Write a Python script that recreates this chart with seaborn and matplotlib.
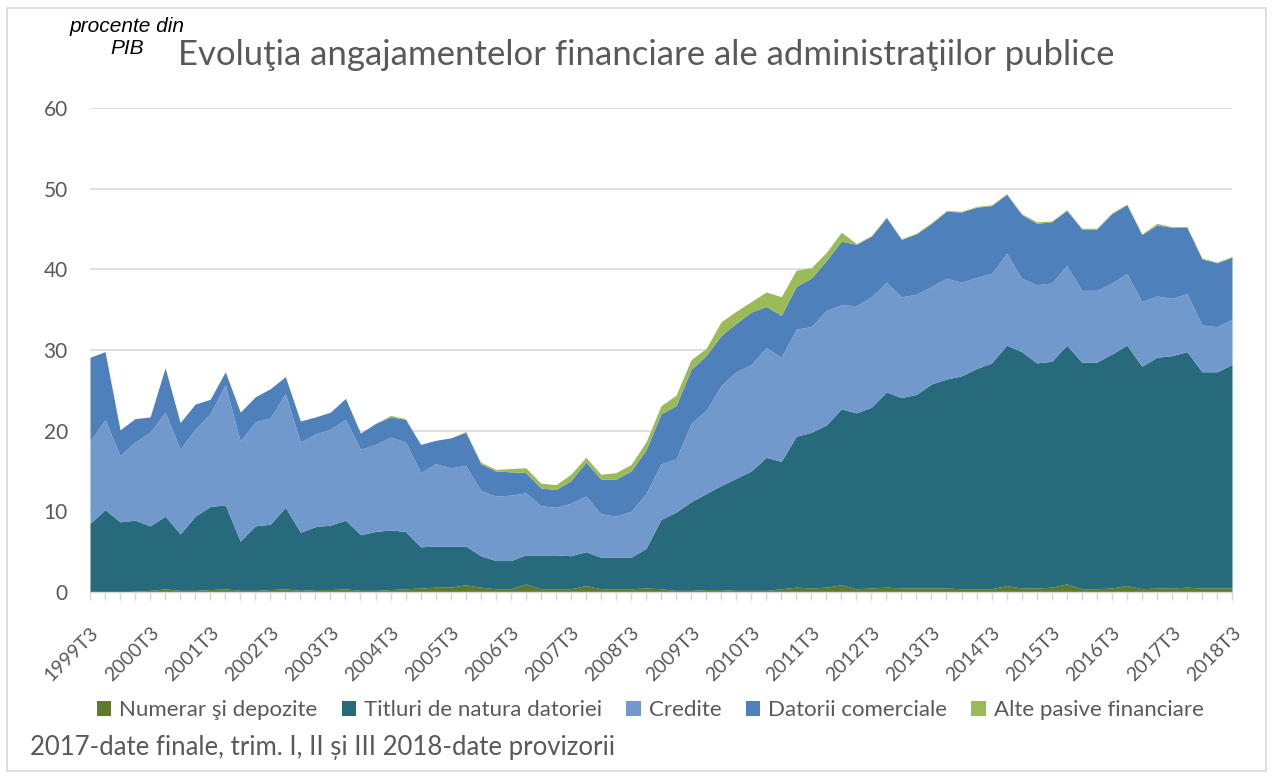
import numpy as np
import matplotlib
matplotlib.use("Agg")
import matplotlib.pyplot as plt
import seaborn as sns
from matplotlib.patches import Rectangle

# ---------------- data ----------------
quarters = []
y0, q0 = 1999, 3
for k in range(77):
    q = (q0 - 1 + k) % 4 + 1
    y = y0 + (q0 - 1 + k) // 4
    quarters.append(f"{y}T{q}")

numerar = [0.0, 0.0, 0.0, 0.1, 0.2, 0.4, 0.2, 0.2, 0.3, 0.4, 0.2, 0.2, 0.3, 0.4, 0.2, 0.3,
           0.3, 0.4, 0.2, 0.2, 0.3, 0.4, 0.5, 0.6, 0.6, 0.9, 0.6, 0.4, 0.4, 1.0, 0.4, 0.4,
           0.4, 0.8, 0.4, 0.4, 0.4, 0.5, 0.4, 0.2, 0.2, 0.3, 0.3, 0.2, 0.2, 0.2, 0.4, 0.6,
           0.5, 0.6, 0.9, 0.4, 0.5, 0.6, 0.5, 0.5, 0.5, 0.5, 0.4, 0.4, 0.4, 0.8, 0.5, 0.5,
           0.6, 1.0, 0.4, 0.4, 0.5, 0.8, 0.4, 0.5, 0.5, 0.6, 0.5, 0.5, 0.5]
titluri = [8.5, 10.2, 8.7, 8.8, 8.0, 9.0, 7.0, 9.2, 10.3, 10.4, 6.1, 8.0, 8.1, 10.1, 7.2, 7.8,
           8.0, 8.5, 6.9, 7.3, 7.4, 7.1, 5.1, 5.1, 5.1, 4.8, 3.9, 3.5, 3.5, 3.6, 4.2, 4.2,
           4.1, 4.2, 3.9, 3.9, 3.9, 4.9, 8.6, 9.7, 11.0, 11.9, 12.9, 13.9, 14.8, 16.5, 15.8, 18.7,
           19.3, 20.1, 21.8, 21.8, 22.4, 24.2, 23.6, 24.0, 25.3, 25.9, 26.4, 27.3, 28.0, 29.8, 29.3, 27.9,
           28.0, 29.6, 28.1, 28.1, 29.0, 29.8, 27.6, 28.6, 28.8, 29.2, 26.8, 26.8, 27.7]
credite = [10.2, 11.2, 8.2, 9.7, 11.6, 12.9, 10.5, 10.8, 11.5, 14.9, 12.4, 12.9, 13.2, 14.1, 11.2, 11.5,
           11.9, 12.5, 10.6, 10.8, 11.5, 11.1, 9.2, 10.2, 9.7, 10.0, 8.1, 8.0, 8.1, 7.7, 6.1, 5.9,
           6.5, 6.9, 5.4, 5.1, 5.7, 6.8, 6.9, 6.6, 9.7, 10.3, 12.4, 13.2, 13.2, 13.6, 12.9, 13.3,
           13.1, 14.2, 12.9, 13.3, 13.7, 13.6, 12.5, 12.4, 12.1, 12.5, 11.6, 11.3, 11.1, 11.4, 9.1, 9.7,
           9.7, 9.9, 8.9, 8.9, 8.8, 8.9, 8.0, 7.6, 7.1, 7.2, 5.8, 5.6, 5.6]
datorii = [10.4, 8.4, 3.2, 2.9, 1.9, 5.5, 3.3, 3.1, 1.8, 1.6, 3.6, 3.1, 3.6, 2.1, 2.6, 2.1,
           2.1, 2.6, 2.0, 2.6, 2.5, 2.8, 3.5, 2.9, 3.7, 4.1, 3.3, 3.1, 2.9, 2.5, 2.2, 2.2,
           2.8, 4.2, 4.3, 4.6, 5.0, 5.4, 6.2, 6.6, 6.7, 6.8, 6.2, 6.0, 6.5, 5.1, 5.2, 5.3,
           6.0, 6.2, 7.9, 7.6, 7.5, 8.0, 7.1, 7.5, 7.8, 8.3, 8.7, 8.7, 8.4, 7.3, 7.9, 7.6,
           7.6, 6.8, 7.6, 7.6, 8.6, 8.5, 8.3, 8.8, 8.8, 8.2, 8.2, 7.9, 7.7]
alte = [0.0, 0.0, 0.0, 0.0, 0.0, 0.0, 0.0, 0.0, 0.0, 0.0, 0.0, 0.0, 0.0, 0.0, 0.0, 0.0,
        0.0, 0.0, 0.0, 0.0, 0.2, 0.1, 0.0, 0.0, 0.0, 0.1, 0.2, 0.2, 0.4, 0.6, 0.6, 0.6,
        0.8, 0.6, 0.6, 0.8, 0.8, 1.0, 1.0, 1.3, 1.2, 0.9, 1.7, 1.5, 1.3, 1.8, 2.3, 2.0,
        1.3, 1.0, 1.1, 0.1, 0.1, 0.1, 0.1, 0.1, 0.1, 0.1, 0.1, 0.1, 0.1, 0.1, 0.1, 0.2,
        0.1, 0.1, 0.1, 0.1, 0.1, 0.1, 0.1, 0.2, 0.1, 0.1, 0.1, 0.1, 0.1]

series_names = ["Numerar şi depozite", "Titluri de natura datoriei", "Credite",
                "Datorii comerciale", "Alte pasive financiare"]
colors = ["#5F7A2E", "#276A7B", "#7299CB", "#4E80BB", "#9BBB59"]

title = "Evoluţia angajamentelor financiare ale administraţiilor publice"
unit_line1 = "procente din"
unit_line2 = "PIB"
footnote = "2017-date finale, trim. I, II și III 2018-date provizorii"

# ---------------- plot ----------------
sns.set_theme(style="white")
plt.rcParams["font.family"] = ["Lato", "DejaVu Sans"]
grey = "#595959"

fig = plt.figure(figsize=(12.73, 7.79), dpi=100)
ax = fig.add_axes([90 / 1273, 1 - 592 / 779, (1232 - 90) / 1273, (592 - 108) / 779])

x = np.arange(len(quarters))
ax.stackplot(x, numerar, titluri, credite, datorii, alte, colors=colors,
             labels=series_names, linewidth=0)

ax.set_xlim(0, len(quarters) - 1)
ax.set_ylim(0, 60)
ax.set_yticks(range(0, 61, 10))
ax.yaxis.grid(True, color="#D9D9D9", linewidth=1.2)
ax.set_axisbelow(True)
for s in ["top", "right", "left"]:
    ax.spines[s].set_visible(False)
ax.spines["bottom"].set_color("#D9D9D9")
ax.spines["bottom"].set_linewidth(1.0)

ax.set_xticks(x, minor=True)
major = [i for i in x if quarters[i].endswith("T3")]
ax.set_xticks(major)
ax.set_xticklabels([quarters[i] for i in major], rotation=45, ha="right",
                   rotation_mode="anchor", fontsize=14, color=grey)
ax.tick_params(axis="x", which="both", direction="out", length=6, width=1,
               color="#D9D9D9", bottom=True, pad=17)
ax.tick_params(axis="y", length=0, labelsize=15, labelcolor=grey, pad=16)

fig.text(646 / 1273, 1 - 55 / 779, title, ha="center", va="center",
         fontsize=25, color=grey)
fig.text(127 / 1273, 1 - 27 / 779, unit_line1, ha="center", va="center",
         fontsize=15, style="italic", color="#000000", family="Liberation Sans")
fig.text(127 / 1273, 1 - 49 / 779, unit_line2, ha="center", va="center",
         fontsize=15, style="italic", color="#000000", family="Liberation Sans")

handles, labels = ax.get_legend_handles_labels()
leg = fig.legend(handles, labels, loc="center", bbox_to_anchor=(650 / 1273, 1 - 710 / 779),
                 ncol=5, frameon=False, fontsize=16, handlelength=0.65, handleheight=0.65,
                 handletextpad=0.35, columnspacing=1.1)
for t in leg.get_texts():
    t.set_color(grey)

fig.text(30 / 1273, 1 - 747 / 779, footnote, ha="left", va="center",
         fontsize=18.5, color=grey)

fig.patches.append(Rectangle((7 / 1273, 8 / 779), 1 - 14 / 1273, 1 - 16 / 779,
                             transform=fig.transFigure, fill=False,
                             edgecolor="#D9D9D9", linewidth=1.2))

fig.savefig("out.png", dpi=100)
